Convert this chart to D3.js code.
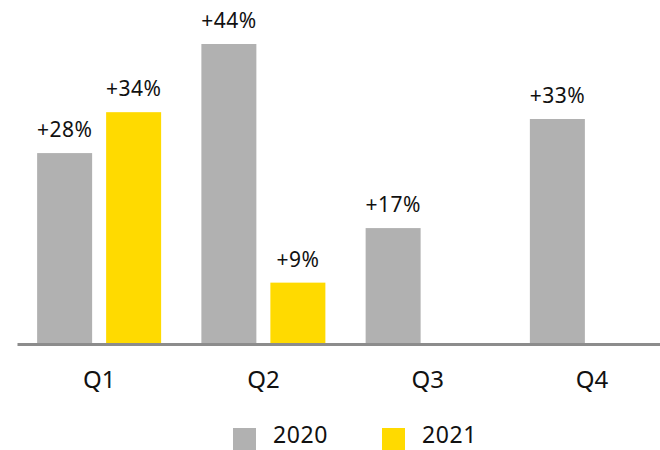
<!DOCTYPE html>
<html>
<head>
<meta charset="utf-8">
<script src="https://cdn.jsdelivr.net/npm/d3@7"></script>
<style>
  html, body { margin: 0; padding: 0; background: #fff; }
  svg { display: block; font-family: "Noto Sans", "Open Sans", sans-serif; }
</style>
</head>
<body>
<svg id="chart" width="660" height="450"></svg>
<script>
// Quarterly growth, two years
const quarters = ["Q1", "Q2", "Q3", "Q4"];
const years = ["2020", "2021"];
const growth2020 = [28, 44, 17, 33];
const growth2021 = [34, 9, null, null];
const colors = ["#b1b1b1", "#ffda00"];

const rows = quarters.map((q, i) => ({
  quarter: q,
  values: [
    { year: years[0], value: growth2020[i] },
    { year: years[1], value: growth2021[i] }
  ]
}));

const svg = d3.select("#chart");
const baseY = 344;

const x0 = d3.scaleBand().domain(quarters).range([17, 674]).paddingInner(0).paddingOuter(0);
const groupWidth = 124;
const x1 = d3.scaleBand().domain(years).range([0, groupWidth]).paddingInner(14 / 69).paddingOuter(0);
const y = d3.scaleLinear().domain([0, 44]).range([baseY, 44]);
const color = d3.scaleOrdinal().domain(years).range(colors);

const groupOffset = (x0.bandwidth() - groupWidth) / 2;

const groups = svg.append("g").selectAll("g")
  .data(rows)
  .join("g")
  .attr("transform", d => `translate(${x0(d.quarter) + groupOffset},0)`);

const bars = groups.selectAll("g.bar")
  .data(d => d.values.filter(v => v.value != null))
  .join("g")
  .attr("class", "bar");

bars.append("rect")
  .attr("x", d => x1(d.year))
  .attr("y", d => y(d.value))
  .attr("width", x1.bandwidth())
  .attr("height", d => baseY - y(d.value))
  .attr("fill", d => color(d.year));

bars.append("text")
  .attr("x", d => x1(d.year) + x1.bandwidth() / 2)
  .attr("y", d => y(d.value) - 16)
  .attr("text-anchor", "middle")
  .attr("font-size", 21)
  .attr("letter-spacing", 0.5)
  .attr("fill", "#111")
  .text(d => "+" + d.value + "%");

// Category axis along the baseline
const axis = svg.append("g")
  .attr("transform", `translate(0,${baseY})`)
  .call(d3.axisBottom(x0).tickSize(0).tickPadding(27));
axis.select(".domain").attr("stroke", "#8c8c8c").attr("stroke-width", 3);
axis.selectAll("text")
  .attr("font-size", 24)
  .attr("font-family", "\"Noto Sans\", \"Open Sans\", sans-serif")
  .attr("fill", "#111");

// Legend
const legend = svg.append("g");
const legendX = [233, 382];
years.forEach((yr, i) => {
  legend.append("rect")
    .attr("x", legendX[i])
    .attr("y", 428)
    .attr("width", 23)
    .attr("height", 22)
    .attr("fill", color(yr));
  legend.append("text")
    .attr("x", legendX[i] + 40)
    .attr("y", 443)
    .attr("font-size", 23)
    .attr("letter-spacing", 0.6)
    .attr("fill", "#111")
    .text(yr);
});
</script>
</body>
</html>
